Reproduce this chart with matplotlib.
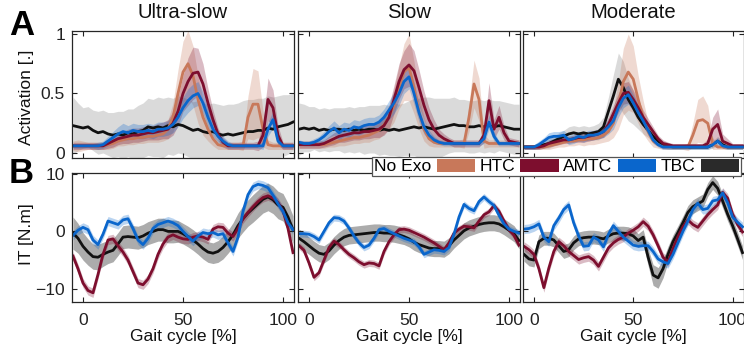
import numpy as np
import matplotlib
matplotlib.use("Agg")
import matplotlib.pyplot as plt
from matplotlib.patches import Patch

plt.rcParams['font.family'] = ['Liberation Sans', 'DejaVu Sans']

# ---------------- data ----------------
gait = [-5, -2.5, 0, 2.5, 5, 7.5, 10, 12.5, 15, 17.5, 20, 22.5, 25, 27.5, 30,
        32.5, 35, 37.5, 40, 42.5, 45, 47.5, 50, 52.5, 55, 57.5, 60, 62.5, 65,
        67.5, 70, 72.5, 75, 77.5, 80, 82.5, 85, 87.5, 90, 92.5, 95, 97.5, 100,
        102.5, 105]

speeds = ["Ultra-slow", "Slow", "Moderate"]
conditions = ["No Exo", "HTC", "AMTC", "TBC"]

# Activation, Ultra-slow
act_us_noexo = [0.23,0.22,0.21,0.22,0.19, 0.17,0.18,0.16,0.15,0.16, 0.15,0.17,0.16,0.18,0.19,
                0.22,0.21,0.22,0.21,0.23, 0.22,0.24,0.23,0.21,0.19, 0.20,0.18,0.17,0.18,0.16,
                0.15,0.16,0.15,0.16,0.17, 0.18,0.18,0.19,0.19,0.21, 0.20,0.22,0.23,0.24,0.26]
act_us_noexo_sd = [0.24,0.20,0.17,0.17,0.17, 0.18,0.18,0.18,0.19,0.19, 0.20,0.20,0.21,0.22,0.23,
                   0.24,0.24,0.25,0.25,0.24, 0.24,0.24,0.24,0.24,0.24, 0.24,0.24,0.24,0.24,0.25,
                   0.25,0.25,0.26,0.26,0.27, 0.27,0.27,0.27,0.27,0.27, 0.27,0.26,0.26,0.25,0.24]
act_us_htc = [0.06,0.06,0.06,0.06,0.06, 0.06,0.06,0.07,0.08,0.10, 0.11,0.12,0.12,0.13,0.13,
              0.14,0.14,0.15,0.16,0.20, 0.30,0.50,0.68,0.75,0.65, 0.45,0.30,0.20,0.12,0.07,
              0.06,0.06,0.06,0.06,0.06, 0.30,0.41,0.41,0.20,0.07, 0.06,0.06,0.06,0.06,0.06]
act_us_htc_sd = [0.04,0.05,0.04,0.03,0.03, 0.03,0.03,0.04,0.04,0.04, 0.05,0.05,0.05,0.05,0.05,
                 0.05,0.05,0.06,0.06,0.08, 0.12,0.20,0.26,0.28,0.25, 0.20,0.15,0.10,0.06,0.04,
                 0.03,0.03,0.03,0.03,0.04, 0.18,0.30,0.28,0.15,0.04, 0.03,0.03,0.03,0.03,0.03]
act_us_amtc = [0.06,0.06,0.06,0.06,0.06, 0.06,0.06,0.08,0.10,0.12, 0.13,0.14,0.15,0.15,0.16,
               0.17,0.17,0.18,0.19,0.20, 0.25,0.35,0.50,0.60,0.67, 0.68,0.58,0.42,0.28,0.16,
               0.09,0.06,0.06,0.06,0.06, 0.06,0.06,0.06,0.15,0.45, 0.38,0.15,0.06,0.06,0.06]
act_us_amtc_sd = [0.03,0.03,0.03,0.03,0.03, 0.03,0.03,0.04,0.05,0.05, 0.05,0.06,0.06,0.06,0.06,
                  0.06,0.06,0.07,0.07,0.08, 0.10,0.12,0.15,0.20,0.22, 0.20,0.17,0.12,0.08,0.05,
                  0.04,0.03,0.03,0.03,0.03, 0.03,0.03,0.04,0.10,0.18, 0.15,0.08,0.03,0.03,0.03]
act_us_tbc = [0.06,0.06,0.06,0.06,0.06, 0.06,0.07,0.10,0.13,0.16, 0.18,0.17,0.19,0.18,0.18,
              0.19,0.18,0.20,0.20,0.21, 0.24,0.30,0.38,0.44,0.48, 0.50,0.42,0.30,0.20,0.14,
              0.10,0.07,0.06,0.06,0.06, 0.06,0.06,0.06,0.06,0.20, 0.28,0.10,0.06,0.06,0.06]
act_us_tbc_sd = [0.02,0.02,0.02,0.02,0.02, 0.03,0.03,0.04,0.05,0.06, 0.07,0.06,0.06,0.06,0.06,
                 0.06,0.06,0.06,0.06,0.06, 0.07,0.08,0.09,0.10,0.10, 0.10,0.09,0.08,0.06,0.05,
                 0.04,0.03,0.02,0.02,0.02, 0.02,0.02,0.02,0.03,0.06, 0.07,0.04,0.02,0.02,0.02]

# Activation, Slow
act_s_noexo = [0.20,0.21,0.20,0.21,0.19, 0.20,0.19,0.20,0.20,0.19, 0.20,0.19,0.20,0.19,0.20,
               0.20,0.19,0.20,0.19,0.20, 0.19,0.20,0.21,0.22,0.21, 0.22,0.21,0.20,0.21,0.22,
               0.23,0.24,0.23,0.23,0.22, 0.22,0.23,0.22,0.23,0.22, 0.23,0.22,0.21,0.20,0.20]
act_s_noexo_sd = [0.22,0.20,0.19,0.18,0.18, 0.18,0.18,0.18,0.18,0.19, 0.19,0.19,0.19,0.20,0.20,
                  0.20,0.21,0.21,0.21,0.22, 0.22,0.22,0.23,0.24,0.25, 0.25,0.26,0.26,0.25,0.24,
                  0.23,0.23,0.22,0.22,0.22, 0.22,0.22,0.22,0.22,0.22, 0.21,0.21,0.21,0.21,0.21]
act_s_htc = [0.07,0.07,0.07,0.07,0.07, 0.07,0.08,0.09,0.10,0.11, 0.12,0.13,0.13,0.14,0.15,
             0.17,0.19,0.24,0.30,0.40, 0.55,0.68,0.72,0.55,0.35, 0.20,0.12,0.09,0.08,0.08,
             0.08,0.08,0.08,0.08,0.30, 0.58,0.45,0.10,0.08,0.08, 0.08,0.08,0.08,0.08,0.08]
act_s_htc_sd = [0.03,0.03,0.03,0.03,0.03, 0.03,0.03,0.04,0.04,0.05, 0.05,0.05,0.05,0.05,0.06,
                0.06,0.07,0.08,0.10,0.14, 0.18,0.24,0.28,0.22,0.15, 0.10,0.06,0.04,0.03,0.03,
                0.03,0.03,0.03,0.04,0.12, 0.20,0.18,0.06,0.03,0.03, 0.03,0.03,0.03,0.03,0.03]
act_s_amtc = [0.07,0.07,0.07,0.07,0.07, 0.08,0.10,0.12,0.14,0.15, 0.16,0.17,0.17,0.18,0.18,
              0.19,0.20,0.23,0.30,0.45, 0.60,0.70,0.74,0.69,0.55, 0.40,0.28,0.20,0.15,0.12,
              0.10,0.08,0.08,0.08,0.08, 0.08,0.08,0.15,0.44,0.20, 0.30,0.17,0.10,0.09,0.08]
act_s_amtc_sd = [0.03,0.03,0.03,0.03,0.03, 0.03,0.04,0.05,0.05,0.06, 0.06,0.06,0.06,0.06,0.06,
                 0.06,0.07,0.08,0.10,0.12, 0.15,0.16,0.18,0.17,0.15, 0.12,0.10,0.08,0.05,0.04,
                 0.03,0.03,0.03,0.03,0.03, 0.03,0.03,0.06,0.15,0.08, 0.10,0.06,0.03,0.03,0.03]
act_s_tbc = [0.09,0.08,0.08,0.09,0.11, 0.14,0.18,0.21,0.17,0.20, 0.19,0.22,0.21,0.23,0.24,
             0.24,0.26,0.30,0.36,0.42, 0.50,0.60,0.64,0.50,0.34, 0.22,0.15,0.11,0.09,0.08,
             0.08,0.08,0.08,0.08,0.08, 0.08,0.08,0.12,0.26,0.14, 0.08,0.08,0.08,0.08,0.08]
act_s_tbc_sd = [0.02,0.02,0.02,0.03,0.03, 0.04,0.05,0.06,0.06,0.06, 0.06,0.06,0.06,0.06,0.06,
                0.06,0.06,0.07,0.08,0.09, 0.10,0.10,0.10,0.09,0.08, 0.06,0.04,0.03,0.02,0.02,
                0.02,0.02,0.02,0.02,0.02, 0.02,0.02,0.04,0.06,0.04, 0.02,0.02,0.02,0.02,0.02]

# Activation, Moderate
act_m_noexo = [0.05,0.05,0.05,0.06,0.07, 0.08,0.10,0.12,0.14,0.16, 0.17,0.16,0.17,0.16,0.17,
               0.18,0.22,0.35,0.48,0.62, 0.55,0.45,0.38,0.30,0.24, 0.19,0.14,0.10,0.07,0.06,
               0.05,0.05,0.05,0.05,0.05, 0.05,0.05,0.05,0.07,0.10, 0.07,0.05,0.05,0.05,0.05]
act_m_noexo_sd = [0.02,0.02,0.02,0.03,0.03, 0.04,0.04,0.05,0.05,0.06, 0.06,0.06,0.06,0.06,0.06,
                  0.07,0.08,0.12,0.18,0.22, 0.22,0.18,0.14,0.10,0.08, 0.06,0.05,0.04,0.03,0.03,
                  0.02,0.02,0.02,0.02,0.02, 0.02,0.02,0.02,0.03,0.04, 0.03,0.02,0.02,0.02,0.02]
act_m_htc = [0.05,0.05,0.05,0.05,0.05, 0.06,0.07,0.08,0.09,0.10, 0.10,0.11,0.11,0.12,0.12,
             0.13,0.15,0.18,0.25,0.40, 0.60,0.68,0.62,0.45,0.30, 0.18,0.10,0.07,0.05,0.05,
             0.05,0.05,0.05,0.05,0.15, 0.27,0.28,0.25,0.08,0.05, 0.05,0.05,0.05,0.05,0.05]
act_m_htc_sd = [0.02,0.02,0.02,0.02,0.02, 0.03,0.03,0.03,0.04,0.04, 0.04,0.04,0.05,0.05,0.05,
                0.05,0.06,0.08,0.12,0.20, 0.28,0.32,0.28,0.20,0.14, 0.08,0.05,0.03,0.02,0.02,
                0.02,0.02,0.02,0.03,0.10, 0.18,0.20,0.15,0.05,0.02, 0.02,0.02,0.02,0.02,0.02]
act_m_amtc = [0.05,0.05,0.05,0.05,0.06, 0.08,0.09,0.10,0.11,0.11, 0.12,0.13,0.13,0.14,0.15,
              0.16,0.18,0.24,0.33,0.42, 0.50,0.51,0.45,0.38,0.30, 0.24,0.18,0.12,0.08,0.07,
              0.06,0.06,0.06,0.06,0.06, 0.06,0.06,0.08,0.20,0.24, 0.10,0.08,0.06,0.06,0.06]
act_m_amtc_sd = [0.02,0.02,0.02,0.02,0.02, 0.03,0.03,0.03,0.03,0.03, 0.03,0.04,0.04,0.04,0.04,
                 0.04,0.05,0.06,0.07,0.08, 0.09,0.09,0.08,0.07,0.06, 0.05,0.04,0.03,0.03,0.02,
                 0.02,0.02,0.02,0.02,0.02, 0.02,0.02,0.04,0.10,0.13, 0.06,0.04,0.02,0.02,0.02]
act_m_tbc = [0.05,0.05,0.05,0.07,0.10, 0.13,0.14,0.14,0.15,0.11, 0.12,0.14,0.13,0.15,0.15,
             0.16,0.18,0.22,0.27,0.38, 0.46,0.49,0.42,0.34,0.27, 0.19,0.11,0.07,0.05,0.05,
             0.05,0.05,0.05,0.05,0.05, 0.05,0.05,0.05,0.07,0.10, 0.06,0.05,0.05,0.05,0.05]
act_m_tbc_sd = [0.02,0.02,0.02,0.03,0.03, 0.04,0.04,0.04,0.04,0.04, 0.04,0.04,0.04,0.04,0.04,
                0.04,0.05,0.06,0.07,0.08, 0.08,0.08,0.07,0.06,0.05, 0.04,0.03,0.02,0.02,0.02,
                0.02,0.02,0.02,0.02,0.02, 0.02,0.02,0.02,0.02,0.03, 0.02,0.02,0.02,0.02,0.02]

# Interaction torque (IT)
it_us_noexo = [-0.3,-1.2,-2.6,-3.6,-4.4, -4.5,-4.0,-3.6,-3.3,-2.2, -1.0,-0.9,-1.0,-1.1,-0.8,
               -0.3,0.0,0.3,0.3,0.0, 0.0,0.0,-0.4,-0.9,-1.5, -2.2,-3.0,-3.6,-3.8,-3.5,
               -2.8,-1.8,-0.6,1.0,2.2, 3.2,4.0,4.8,5.6,6.0, 5.5,4.6,4.2,2.5,0.3]
it_us_noexo_sd = [2.8,2.6,2.4,2.3,2.2, 2.2,2.1,2.0,2.0,2.0, 2.0,2.0,2.0,2.0,2.0,
                  2.0,2.0,2.0,2.0,2.0, 2.0,1.9,1.8,1.8,1.8, 1.8,1.8,1.8,1.8,1.9,
                  2.0,2.0,2.1,2.2,2.3, 2.3,2.4,2.4,2.4,2.4, 2.4,2.4,2.4,2.4,2.4]
it_us_amtc = [-4.3,-6.5,-9.0,-10.3,-10.7, -7.5,-4.0,-1.5,-1.3,-2.5, -3.6,-5.0,-7.0,-9.0,-9.3,
              -8.3,-6.5,-4.0,-2.2,-1.0, -0.6,-1.0,-1.3,-1.4,-1.0, -0.8,-1.0,-1.4,0.4,0.8,
              0.7,-0.3,-0.9,0.5,2.2, 3.3,4.3,5.2,5.9,6.2, 5.8,5.0,3.6,0.5,-3.7]
it_us_tbc = [-0.7,0.2,0.7,0.3,-1.5, -2.3,-0.5,1.8,1.5,1.2, 2.0,2.2,0.5,-1.5,-2.3,
             -1.2,0.5,1.2,1.5,1.8, 1.5,1.0,0.0,-0.9,-1.7, -0.8,-0.2,-0.4,-0.2,-0.6,
             -0.4,-2.0,-3.5,-1.0,3.5, 6.4,7.8,8.2,8.0,7.6, 6.3,4.8,3.5,1.5,0.3]

it_s_noexo = [-1.2,-1.8,-2.5,-3.2,-3.8, -4.0,-3.4,-2.4,-1.6,-1.0, -0.7,-0.6,-0.5,-0.4,-0.3,
              -0.2,-0.2,-0.3,-0.3,-0.4, -0.6,-0.9,-1.3,-1.9,-2.3, -2.6,-2.9,-3.0,-3.0,-3.1,
              -2.5,-1.5,-0.7,0.1,0.6, 0.9,1.2,1.4,1.5,1.5, 1.3,0.8,0.2,-0.4,-1.6]
it_s_noexo_sd = [1.6,1.6,1.5,1.5,1.5, 1.5,1.5,1.5,1.5,1.5, 1.5,1.5,1.5,1.5,1.5,
                 1.5,1.5,1.5,1.5,1.5, 1.5,1.4,1.4,1.4,1.4, 1.4,1.4,1.4,1.4,1.4,
                 1.4,1.4,1.4,1.4,1.4, 1.4,1.4,1.4,1.4,1.4, 1.4,1.4,1.4,1.4,1.4]
it_s_amtc = [-2.5,-3.3,-5.5,-8.0,-7.2, -5.0,-2.8,-1.7,-2.3,-3.2, -4.0,-4.6,-5.3,-5.8,-5.5,
             -5.6,-6.0,-3.5,-1.8,-0.6, 0.3,0.4,0.2,-0.2,-0.6, -1.0,-1.5,-2.0,-2.6,-3.2,
             -2.0,-0.3,0.4,0.9,0.8, 0.6,1.8,2.9,3.4,4.5, 3.5,1.8,0.3,-0.7,-2.4]
it_s_tbc = [-0.4,-0.4,-0.5,-0.9,-1.5, 0.0,1.5,2.4,2.3,1.8, 0.6,-0.8,-2.0,-2.8,-2.4,
            -1.2,0.3,0.5,0.0,-0.4, -0.8,-1.2,-1.5,-1.8,-2.7, -4.0,-3.6,-3.2,-3.3,-3.5,
            -2.8,-0.5,2.5,4.7,4.0, 3.6,5.2,6.0,5.2,4.5, 2.8,1.3,0.4,0.0,-0.3]

it_m_noexo = [-4.0,-4.8,-5.0,-1.8,-1.2, -1.2,-1.5,-2.5,-3.5,-3.2, -2.0,-1.3,-1.1,-1.0,-1.0,
              -1.1,-1.3,-0.8,-0.4,-0.3, -0.3,-0.4,-0.8,-1.6,-1.0, -4.5,-7.6,-8.1,-6.5,-4.0,
              -1.8,-0.2,1.5,3.3,4.3, 4.8,5.3,7.3,8.5,7.5, 5.3,3.0,1.0,-1.3,-3.7]
it_m_noexo_sd = [1.2,1.2,1.2,1.2,1.2, 1.2,1.2,1.2,1.2,1.2, 1.2,1.2,1.2,1.2,1.2,
                 1.2,1.2,1.2,1.2,1.2, 1.2,1.2,1.2,1.2,1.3, 1.5,1.8,1.8,1.6,1.4,
                 1.2,1.2,1.2,1.2,1.2, 1.2,1.2,1.2,1.2,1.2, 1.2,1.2,1.2,1.2,1.2]
it_m_amtc = [-2.6,-3.2,-4.0,-6.5,-9.8, -6.4,-3.5,-1.8,-2.5,-3.5, -4.2,-4.9,-4.6,-4.4,-5.0,
             -6.1,-4.5,-2.9,-2.0,-1.4, -1.0,-0.3,0.2,0.8,1.7, 0.9,-0.6,-2.5,-4.5,-5.3,
             -3.0,-0.9,0.8,2.0,1.2, 0.7,1.8,2.9,3.8,4.6, 6.8,5.8,3.0,1.2,-0.1]
it_m_tbc = [0.4,0.5,0.8,1.3,-1.0, -1.8,1.0,2.3,3.8,4.6, 1.5,-0.8,-2.6,-2.5,-1.0,
            -1.5,-2.7,-0.5,1.0,0.0, -1.0,-1.7,-2.4,-2.6,-2.5, -2.5,-3.5,-4.8,-5.3,-5.6,
            -4.0,-2.0,0.0,1.8,3.8, 4.9,3.8,4.0,5.3,5.5, 6.7,5.0,2.5,1.6,0.8]

it_amtc_sd = [0.8, 0.6, 0.8]
it_tbc_sd = [0.8, 0.6, 0.8]

# ---------------- styling ----------------
C_NOEXO = '#111111'
C_HTC = '#C8785A'
C_AMTC = '#7D0E2E'
C_TBC = '#0A66CC'
LEG_COLORS = [C_HTC, C_AMTC, C_TBC, '#2A2A2A']

W, H = 744, 358
fig = plt.figure(figsize=(W / 100, H / 100), dpi=100)


def axrect(l, r, t, b):
    return [l / W, 1 - b / H, (r - l) / W, (b - t) / H]


lefts = [72, 298, 523]
rights = [294, 520, 743.5]

act_sets = [
    [(act_us_noexo, act_us_noexo_sd), (act_us_htc, act_us_htc_sd),
     (act_us_amtc, act_us_amtc_sd), (act_us_tbc, act_us_tbc_sd)],
    [(act_s_noexo, act_s_noexo_sd), (act_s_htc, act_s_htc_sd),
     (act_s_amtc, act_s_amtc_sd), (act_s_tbc, act_s_tbc_sd)],
    [(act_m_noexo, act_m_noexo_sd), (act_m_htc, act_m_htc_sd),
     (act_m_amtc, act_m_amtc_sd), (act_m_tbc, act_m_tbc_sd)],
]
it_sets = [
    (it_us_noexo, it_us_noexo_sd, it_us_amtc, it_us_tbc),
    (it_s_noexo, it_s_noexo_sd, it_s_amtc, it_s_tbc),
    (it_m_noexo, it_m_noexo_sd, it_m_amtc, it_m_tbc),
]

x = np.array(gait)
TICKFS = 12.6


def style(ax):
    ax.set_xlim(-5.5, 105.5)
    ax.set_xticks([0, 50, 100])
    ax.tick_params(direction='in', length=3.5, width=0.8, top=True, right=True,
                   labelsize=TICKFS, colors='#222222', pad=5)
    for s in ax.spines.values():
        s.set_linewidth(0.9)
        s.set_color('#262626')


for k in range(3):
    # Panel A: activation
    ax = fig.add_axes(axrect(lefts[k], rights[k], 31, 158))
    (m0, s0), (m1, s1), (m2, s2), (m3, s3) = [(np.array(a), np.array(b)) for a, b in act_sets[k]]
    ax.fill_between(x, m0 - s0, m0 + s0, color='#d4d4d4', alpha=0.85, lw=0)
    for m, s, c in [(m1, s1, C_HTC), (m2, s2, C_AMTC), (m3, s3, C_TBC)]:
        ax.fill_between(x, m - s, m + s, color=c, alpha=0.28, lw=0)
    ax.plot(x, m0, color=C_NOEXO, lw=2.0)
    ax.plot(x, m1, color=C_HTC, lw=2.0)
    ax.plot(x, m2, color=C_AMTC, lw=2.0)
    ax.plot(x, m3, color=C_TBC, lw=2.0)
    ax.set_ylim(-0.042, 1.025)
    ax.set_yticks([0, 0.5, 1])
    ax.set_yticklabels(['0', '0.5', '1'])
    style(ax)
    ax.tick_params(labelbottom=False)
    if k > 0:
        ax.tick_params(labelleft=False)
    ax.set_title(speeds[k], fontsize=14.6, pad=9, color='#111111')

    # Panel B: interaction torque
    ax = fig.add_axes(axrect(lefts[k], rights[k], 173, 302))
    n0, ns0, a2, t3 = [np.array(v) for v in it_sets[k]]
    ax.fill_between(x, n0 - ns0, n0 + ns0, color='#a3a3a3', alpha=0.9, lw=0)
    ax.fill_between(x, a2 - it_amtc_sd[k], a2 + it_amtc_sd[k], color=C_AMTC, alpha=0.28, lw=0)
    ax.fill_between(x, t3 - it_tbc_sd[k], t3 + it_tbc_sd[k], color=C_TBC, alpha=0.28, lw=0)
    ax.plot(x, n0, color=C_NOEXO, lw=2.0)
    ax.plot(x, a2, color=C_AMTC, lw=2.0)
    ax.plot(x, t3, color=C_TBC, lw=2.0)
    ax.set_ylim(-12.3, 10.17)
    ax.set_yticks([-10, 0, 10])
    style(ax)
    ax.tick_params(axis='x', pad=8)
    if k > 0:
        ax.tick_params(labelleft=False)
    ax.set_xlabel('Gait cycle [%]', fontsize=12.6, labelpad=1, color='#111111')

fig.text(27 / W, 1 - 97 / H, 'Activation [.]', rotation=90, ha='center', va='center',
         fontsize=12.6, color='#111111')
fig.text(27 / W, 1 - 234 / H, 'IT [N.m]', rotation=90, ha='center', va='center',
         fontsize=12.6, color='#111111')
fig.text(9 / W, 1 - 35 / H, 'A', fontsize=25, fontweight='bold', va='baseline')
fig.text(9 / W, 1 - 183 / H, 'B', fontsize=25, fontweight='bold', va='baseline')

handles = [Patch(facecolor=c, edgecolor='none') for c in LEG_COLORS]
leg = fig.legend(handles, conditions, loc='lower left', bbox_to_anchor=(372 / W, 1 - 176.5 / H),
                 ncol=4, markerfirst=False, fontsize=12.6, frameon=True, fancybox=False,
                 framealpha=1, edgecolor='#555555', handlelength=2.2, handleheight=0.75,
                 handletextpad=0.3, columnspacing=0.25, borderpad=0.12, borderaxespad=0)
leg.get_frame().set_linewidth(0.9)

fig.savefig('out.png', dpi=100)
